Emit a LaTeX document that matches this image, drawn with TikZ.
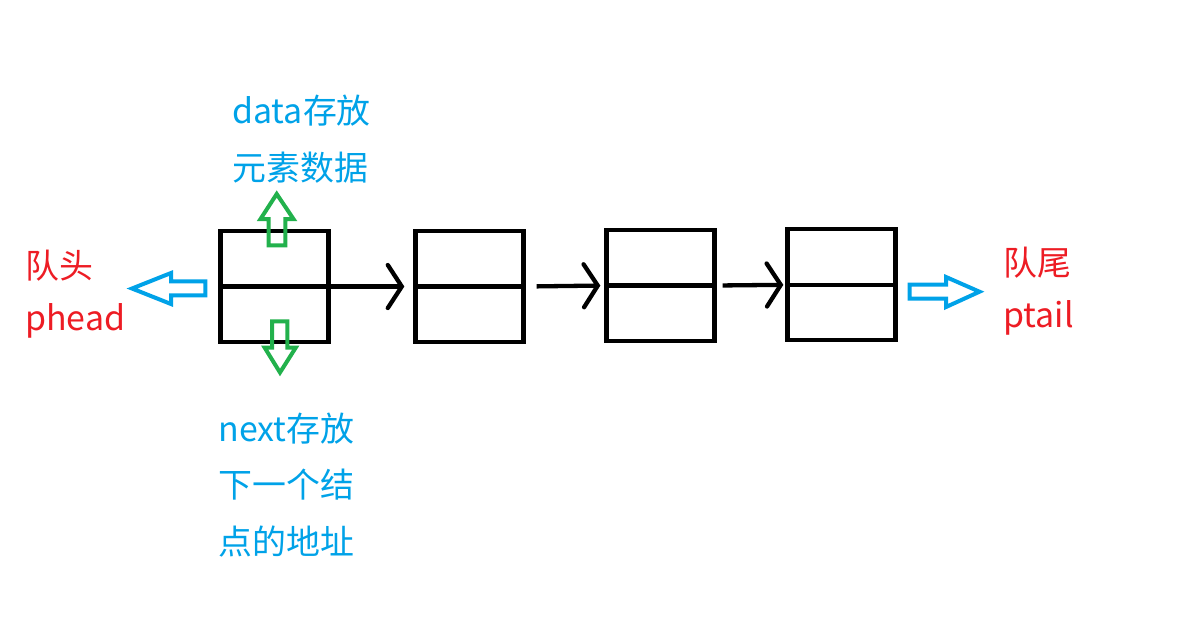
\documentclass[tikz,border=0pt]{standalone}
\usepackage{fontspec}
\setmainfont{Noto Sans CJK SC}
\usetikzlibrary{arrows.meta}
\definecolor{txtblue}{HTML}{00A2E8}
\definecolor{txtred}{HTML}{ED1C24}
\definecolor{ptrgreen}{HTML}{22B14C}
\tikzset{
  cell/.style={draw, line width=0.086cm, minimum width=2.16cm, minimum height=2.22cm, inner sep=0pt},
  lbl/.style={anchor=west, inner sep=0pt, align=left, font=\fontsize{19.3}{32.4}\selectfont},
  ptrlbl/.style={lbl, font=\fontsize{19.3}{29.6}\selectfont},
  link/.style={line width=0.086cm, ->},
  hollow/.style={line width=0.08cm, line join=miter},
}

\begin{document}
\begin{tikzpicture}[x=0.02cm, y=-0.02cm, >={Straight Barb[length=0.28cm,width=0.86cm,line cap=round]}]
  \useasboundingbox (0,0) rectangle (1186,620);

  \node[cell] (n1) at (274.5,286.5) {};
  \node[cell] (n2) at (469.5,286.5) {};
  \node[cell] (n3) at (660.5,285.5) {};
  \node[cell] (n4) at (841.5,284.8) {};
  \draw[line width=0.086cm] (n1.west) -- (n1.east);
  \draw[line width=0.086cm] (n2.west) -- (n2.east);
  \draw[line width=0.086cm] (n3.west) -- (n3.east);
  \draw[line width=0.086cm] (n4.west) -- (n4.east);

  \draw[link, shorten >=0.18cm] (n1.east) -- (n2.west);
  \draw[link, shorten <=0.22cm, shorten >=0.08cm] (n2.east) -- (n3.west);
  \draw[link, shorten <=0.12cm, shorten >=0.04cm] (n3.east) -- (n4.west);

  % head / tail pointers
  \draw[hollow, txtblue] (132,288.5) -- (171,273) -- (171,281.3) -- (205.3,281.3)
    -- (205.3,295.3) -- (171,295.3) -- (171,304) -- cycle;
  \draw[hollow, txtblue] (979.5,291.7) -- (946,277) -- (946,284.7) -- (909.7,284.7)
    -- (909.7,298.7) -- (946,298.7) -- (946,307) -- cycle;

  % data / next fields
  \draw[hollow, ptrgreen] (276.7,194) -- (293.5,219) -- (285.3,219) -- (285.3,245.3)
    -- (268.7,245.3) -- (268.7,219) -- (260.5,219) -- cycle;
  \draw[hollow, ptrgreen] (280,372.5) -- (295.7,347.7) -- (287.3,347.7) -- (287.3,321.3)
    -- (272,321.3) -- (272,347.7) -- (264.7,347.7) -- cycle;

  \node[lbl, text=txtblue] (datalbl) at (232,139.5) {data存放\\元素数据};
  \node[lbl, text=txtblue] (nextlbl) at (218,485) {next存放\\下一个结\\点的地址};
  \node[ptrlbl, text=txtred] (headlbl) at (25,294.5) {队头\\phead};
  \node[ptrlbl, text=txtred] (taillbl) at (1003,291.5) {队尾\\ptail};
\end{tikzpicture}
\end{document}
